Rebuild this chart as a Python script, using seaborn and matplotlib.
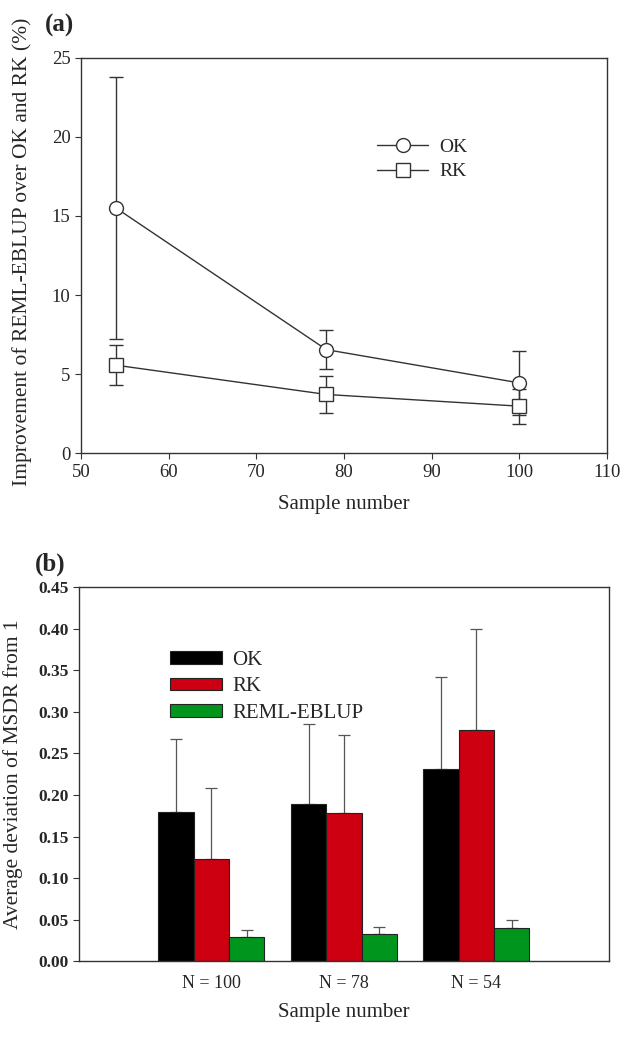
import numpy as np
import pandas as pd
import matplotlib
matplotlib.use("Agg")
import matplotlib.pyplot as plt
import seaborn as sns

# panel (a) data
sample_n = [54, 78, 100]
ok_impr = [15.5, 6.55, 4.45]
ok_err = [8.3, 1.23, 2.0]
rk_impr = [5.57, 3.72, 2.98]
rk_err = [1.28, 1.15, 1.1]

# panel (b) data
groups = ["N = 100", "N = 78", "N = 54"]
methods = ["OK", "RK", "REML-EBLUP"]
ok_dev = [0.180, 0.189, 0.231]
ok_dev_err = [0.087, 0.097, 0.111]
rk_dev = [0.123, 0.178, 0.278]
rk_dev_err = [0.086, 0.094, 0.122]
reml_dev = [0.029, 0.033, 0.040]
reml_dev_err = [0.008, 0.008, 0.010]

sns.set_style("ticks")
plt.rcParams['font.family'] = ['Liberation Serif', 'DejaVu Serif']
plt.rcParams['axes.edgecolor'] = '#333333'
plt.rcParams['axes.linewidth'] = 1.0

fig = plt.figure(figsize=(6.22, 10.47), dpi=100)
ax1 = fig.add_axes([0.130, 0.567, 0.846, 0.378])
ax2 = fig.add_axes([0.127, 0.082, 0.852, 0.357])

# ---- panel (a) ----
line_df = pd.DataFrame({
    "n": sample_n * 2,
    "impr": ok_impr + rk_impr,
    "method": ["OK"] * 3 + ["RK"] * 3,
})
sns.lineplot(data=line_df, x="n", y="impr", style="method", markers={"OK": "o", "RK": "s"},
             dashes=False, color="#333333", markersize=10, markerfacecolor="white",
             markeredgecolor="#333333", markeredgewidth=1.0, linewidth=1.0, ax=ax1, legend=True)
ax1.errorbar(sample_n, ok_impr, yerr=ok_err, fmt="none", ecolor="#333333", elinewidth=1.0,
             capsize=5, capthick=1.0, zorder=1)
ax1.errorbar(sample_n, rk_impr, yerr=rk_err, fmt="none", ecolor="#333333", elinewidth=1.0,
             capsize=5, capthick=1.0, zorder=1)
ax1.set_xlim(50, 110)
ax1.set_ylim(0, 25)
ax1.set_xticks([50, 60, 70, 80, 90, 100, 110])
ax1.set_yticks([0, 5, 10, 15, 20, 25])
ax1.tick_params(labelsize=13.5, direction="out", length=4, color="#333333")
ax1.set_xlabel("Sample number", fontsize=15, labelpad=10)
ax1.set_ylabel("Improvement of REML-EBLUP over OK and RK (%)", fontsize=15.5)
ax1.yaxis.set_label_coords(-0.093, 0.51)
ax1.legend(loc="upper left", bbox_to_anchor=(0.53, 0.84), frameon=False, fontsize=14,
           handlelength=2.6, handletextpad=0.6, labelspacing=0.35, title=None)
ax1.text(-0.068, 1.081, "(a)", transform=ax1.transAxes, fontsize=18, fontweight="bold",
         va="center")

# ---- panel (b) ----
bar_df = pd.DataFrame({
    "group": groups * 3,
    "dev": ok_dev + rk_dev + reml_dev,
    "method": ["OK"] * 3 + ["RK"] * 3 + ["REML-EBLUP"] * 3,
})
palette = {"OK": "#000000", "RK": "#cc0010", "REML-EBLUP": "#00961e"}
sns.barplot(data=bar_df, x="group", y="dev", hue="method", order=groups, hue_order=methods,
            palette=palette, errorbar=None, width=0.8, edgecolor="#222222", linewidth=0.8,
            saturation=1, ax=ax2)
errs = [ok_dev_err, rk_dev_err, reml_dev_err]
vals = [ok_dev, rk_dev, reml_dev]
bw = 0.8 / 3
for j in range(3):
    xs = np.arange(3) + (j - 1) * bw
    ax2.errorbar(xs, vals[j], yerr=[np.zeros(3), errs[j]], fmt="none", ecolor="#555555",
                 elinewidth=0.9, capsize=4, capthick=0.9, zorder=0)
ax2.set_xlim(-1, 3)
ax2.set_ylim(0, 0.45)
ax2.set_yticks(np.arange(0, 0.451, 0.05))
ax2.set_yticklabels(["%.2f" % v for v in np.arange(0, 0.451, 0.05)], fontweight="bold")
ax2.tick_params(axis="y", labelsize=12.5, direction="out", length=4, color="#333333")
ax2.tick_params(axis="x", labelsize=13, length=0, pad=10)
ax2.set_xlabel("Sample number", fontsize=15, labelpad=8)
ax2.set_ylabel("Average deviation of MSDR from 1", fontsize=15.5)
ax2.yaxis.set_label_coords(-0.105, 0.5)
ax2.legend(loc="upper left", bbox_to_anchor=(0.165, 0.838), borderaxespad=0, frameon=False,
           borderpad=0.15, fontsize=15, handlelength=2.5, handleheight=0.55,
           handletextpad=0.5, labelspacing=0.35, title=None)
ax2.text(-0.083, 1.061, "(b)", transform=ax2.transAxes, fontsize=18, fontweight="bold",
         va="center")

fig.savefig("out.png", dpi=100)
